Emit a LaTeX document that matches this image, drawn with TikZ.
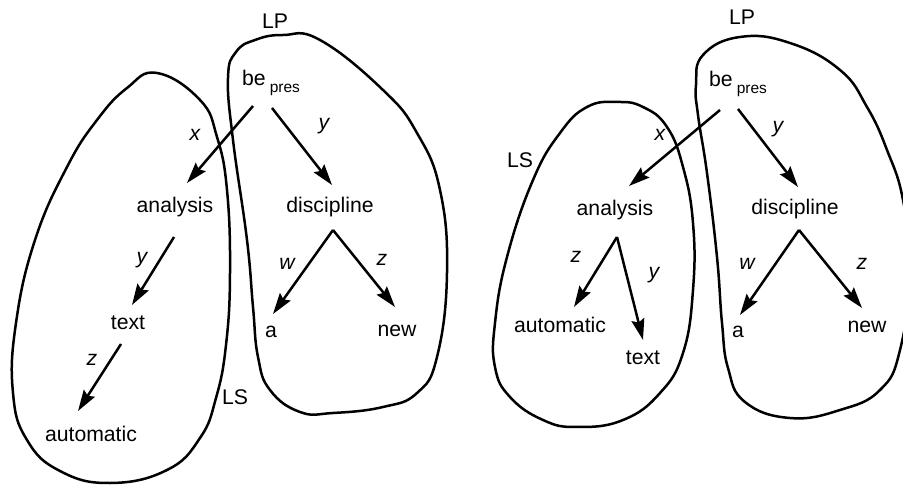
\documentclass[tikz,border=0pt]{standalone}
\usepackage{fontspec}
\setmainfont{Liberation Sans}
\usetikzlibrary{arrows.meta}
\begin{document}
\begin{tikzpicture}[x=1pt,y=-1pt,
  word/.style={inner sep=0pt, anchor=base, font=\fontsize{21.2}{25}\selectfont},
  lab/.style={inner sep=0pt, font=\fontsize{21.2}{25}\selectfont\itshape},
  arr/.style={line width=2.5pt, -{Stealth[length=21pt,width=13pt,inset=3pt]}},
  blob/.style={line width=2.5pt, line join=round}]
\useasboundingbox (0,0) rectangle (903,486);
\clip (0,0) rectangle (903,486);

% ---------------- left structure ----------------
% regions
\draw[blob] plot[smooth cycle, tension=0.75] coordinates {
  (157,73) (200,100) (217,137) (227,190) (230,273) (226,345) (216,398)
  (200,438) (167,470) (110,483) (60,471) (27,440) (13,393) (16,323)
  (35,240) (67,167) (97,120) (127,88)};
\draw[blob] plot[smooth cycle, tension=0.75] coordinates {
  (228,78) (236,52) (255,40) (283,35) (320,40) (383,90) (417,133)
  (440,190) (447,273) (437,357) (417,393) (383,407) (333,413) (300,412)
  (270,390) (258,357) (253,307) (247,240) (233,140)};

% words
\node[word, anchor=base west] (beA) at (242,86)
  {be\hspace{4pt}\raisebox{-7pt}{\fontsize{15.5}{16}\selectfont pres}};
\node[word] (anaA) at (175,213) {analysis};
\node[word] (disA) at (330,213) {discipline};
\node[word] (texA) at (128,330) {text};
\node[word] (autA) at (91,442) {automatic};
\node[word] (aA) at (271,338) {a};
\node[word] (newA) at (397,337) {new};
\node[word] (lsA) at (235,405) {LS};
\node[word] (lpA) at (275,29) {LP};

% dependencies
\draw[arr] ([shift={(11,20)}]beA.base west) -- ([shift={(12,-30)}]anaA.base);
\draw[arr] ([shift={(30,22)}]beA.base west) -- ([shift={(2,-28)}]disA.base);
\draw[arr] ([shift={(-1,24)}]anaA.base) -- ([shift={(4,-25)}]texA.base);
\draw[arr] ([shift={(-7,14)}]texA.base) -- ([shift={(-13,-31)}]autA.base);
\draw[arr] ([shift={(3,17)}]disA.base) -- ([shift={(2,-24)}]aA.base);
\draw[arr] ([shift={(3,17)}]disA.base) -- ([shift={(-2,-30)}]newA.base);

% relation labels
\node[lab] (xA1) at (195,135) {x};
\node[lab] (yA1) at (324,126) {y};
\node[lab] (yA2) at (142,260) {y};
\node[lab] (zA1) at (92,360) {z};
\node[lab] (wA1) at (287,264) {w};
\node[lab] (zA2) at (382,260) {z};

% ---------------- right structure ----------------
% regions
\draw[blob] plot[smooth cycle, tension=0.75] coordinates {
  (617,102) (643,107) (667,127) (683,167) (693,223) (693,290) (683,353)
  (660,393) (623,420) (577,427) (543,420) (510,397) (495,367) (495,323)
  (507,257) (533,180) (560,133) (587,107)};
\draw[blob] plot[smooth cycle, tension=0.75] coordinates {
  (696,85) (703,55) (740,37) (790,43) (840,70) (867,107) (887,150)
  (903,200) (910,270) (900,350) (880,390) (840,410) (790,418) (745,402)
  (728,368) (722,323) (717,257) (707,173) (698,115)};

% words
\node[word, anchor=base west] (beB) at (709,87)
  {be\hspace{4pt}\raisebox{-7pt}{\fontsize{15.5}{16}\selectfont pres}};
\node[word] (anaB) at (615,216) {analysis};
\node[word] (disB) at (795,215) {discipline};
\node[word] (autB) at (560,333) {automatic};
\node[word] (texB) at (643,365) {text};
\node[word] (aB) at (738,338) {a};
\node[word] (newB) at (867,333) {new};
\node[word] (lsB) at (520,168) {LS};
\node[word] (lpB) at (742,25) {LP};

% dependencies
\draw[arr] ([shift={(11,23)}]beB.base west) -- ([shift={(14,-30)}]anaB.base);
\draw[arr] ([shift={(29,22)}]beB.base west) -- ([shift={(3,-28)}]disB.base);
\draw[arr] ([shift={(2,21)}]anaB.base) -- ([shift={(14,-26)}]autB.base);
\draw[arr] ([shift={(2,21)}]anaB.base) -- ([shift={(0,-25)}]texB.base);
\draw[arr] ([shift={(4,15)}]disB.base) -- ([shift={(2,-23)}]aB.base);
\draw[arr] ([shift={(4,15)}]disB.base) -- ([shift={(-5,-25)}]newB.base);

% relation labels
\node[lab] (xB1) at (660,135) {x};
\node[lab] (yB1) at (778,129) {y};
\node[lab] (zB1) at (576,257) {z};
\node[lab] (yB2) at (654,275) {y};
\node[lab] (wB1) at (747,264) {w};
\node[lab] (zB2) at (862,264) {z};
\end{tikzpicture}
\end{document}
